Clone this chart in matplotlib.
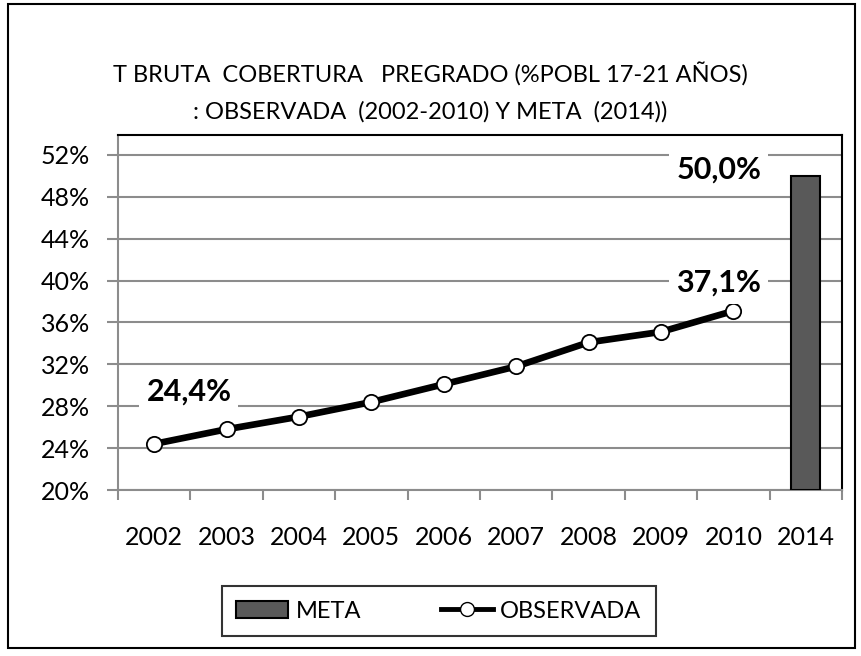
import numpy as np
import matplotlib.pyplot as plt
from matplotlib.patches import Rectangle
from matplotlib.lines import Line2D

plt.rcParams['font.family'] = ['Lato', 'DejaVu Sans']

years = ['2002', '2003', '2004', '2005', '2006', '2007', '2008', '2009', '2010', '2014']
observada = [24.4, 25.8, 27.0, 28.4, 30.1, 31.8, 34.1, 35.1, 37.1]
meta = 50.0
yticks = [20, 24, 28, 32, 36, 40, 44, 48, 52]

fig = plt.figure(figsize=(8.62, 6.56), dpi=100)
ax = fig.add_axes([118/862, 1 - 490/656, (842 - 118)/862, (490 - 135)/656])

x = np.arange(len(years))
ax.bar(x[-1], meta - 20, bottom=20, width=0.4, color='#595959', edgecolor='black', linewidth=1.5, zorder=3)
ax.plot(x[:-1], observada, color='black', lw=4.8, marker='o', ms=11,
        mfc='white', mec='black', mew=1.3, zorder=4, clip_on=False)

ax.set_xlim(-0.5, 9.5)
ax.set_ylim(20, 53.9)
ax.set_yticks(yticks)
ax.set_yticklabels([f'{v}%' for v in yticks])
ax.set_xticks(x)
ax.set_xticklabels(years)
ax.set_xticks(np.arange(-0.5, 10, 1), minor=True)
ax.tick_params(axis='x', which='major', length=0, pad=26, labelsize=18)
ax.tick_params(axis='x', which='minor', length=7, color='#8c8c8c', width=1.5)
ax.tick_params(axis='y', length=8, color='#8c8c8c', width=1.5, labelsize=18, pad=12)
ax.grid(axis='y', color='#8c8c8c', lw=1.5, zorder=0)
ax.set_axisbelow(True)
for s in ['left', 'bottom']:
    ax.spines[s].set_color('#8c8c8c')
    ax.spines[s].set_linewidth(1.5)
for s in ['top', 'right']:
    ax.spines[s].set_color('black')
    ax.spines[s].set_linewidth(1.5)

box = dict(facecolor='white', edgecolor='none', pad=5)
ax.text(0.48, 29.4, '24,4%', fontsize=22, fontweight='bold', ha='center', va='center', bbox=box, zorder=5)
ax.text(7.8, 39.8, '37,1%', fontsize=22, fontweight='bold', ha='center', va='center', bbox=box, zorder=5)
ax.text(7.8, 50.6, '50,0%', fontsize=22, fontweight='bold', ha='center', va='center', bbox=box, zorder=5)

fig.text(430/862, 1 - 75/656, 'T BRUTA  COBERTURA   PREGRADO (%POBL 17-21 AÑOS)',
         ha='center', va='center', fontsize=17)
fig.text(430/862, 1 - 112/656, ': OBSERVADA  (2002-2010) Y META  (2014))',
         ha='center', va='center', fontsize=17)

handles = [Rectangle((0, 0), 1, 1, facecolor='#595959', edgecolor='black', lw=1.5),
           Line2D([], [], color='black', lw=3.5, marker='o', ms=10, mfc='white', mec='black')]
leg = fig.legend(handles, ['META', 'OBSERVADA'], loc='center', bbox_to_anchor=(439/862, 1 - 611/656),
                 ncol=2, fontsize=17, frameon=True, fancybox=False, edgecolor='black',
                 handlelength=2.2, columnspacing=3.4, borderpad=0.6, handletextpad=0.3)
leg.get_frame().set_linewidth(1.5)

fig.patches.append(Rectangle((8/862, 8/656), (855 - 8)/862, (652 - 8)/656, transform=fig.transFigure,
                             fill=False, edgecolor='black', lw=1.5))

fig.savefig('out.png', dpi=100)
